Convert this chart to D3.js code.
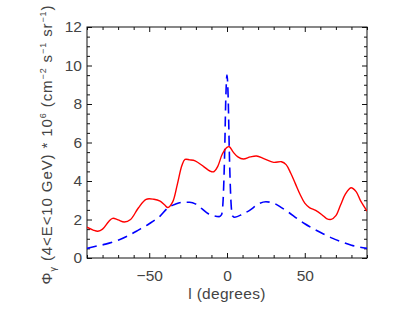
<!DOCTYPE html>
<html>
<head>
<meta charset="utf-8">
<script src="https://cdn.jsdelivr.net/npm/d3@7"></script>
<style>
  body { margin: 0; background: #fff; }
  text { font-family: "Liberation Sans", Arial, sans-serif; fill: #444; }
</style>
</head>
<body>
<div id="chart"></div>
<script>
// Total flux (red, solid) along galactic longitude
const lonTotal = [-90, -86, -83, -80, -76, -73.5, -70, -66, -62, -57, -52, -47, -43, -40, -38, -35, -32, -29, -27, -24, -20.5, -15, -11, -8.5, -6, -3, 0, 1.5, 4, 7, 10.5, 15, 19, 24, 30, 35, 38, 41, 44, 47, 50, 53, 57, 61, 64, 67, 70, 73, 76, 79.7, 83, 86, 90];
const fluxTotal = [1.6, 1.45, 1.39, 1.5, 1.9, 2.06, 1.98, 1.87, 2.0, 2.6, 3.05, 3.05, 2.95, 2.75, 2.62, 2.9, 3.8, 4.8, 5.12, 5.1, 5.05, 4.75, 4.52, 4.48, 4.75, 5.4, 5.75, 5.78, 5.5, 5.25, 5.14, 5.25, 5.3, 5.15, 4.97, 5.0, 4.85, 4.4, 3.85, 3.3, 2.85, 2.62, 2.47, 2.25, 2.05, 2.01, 2.2, 2.75, 3.3, 3.65, 3.45, 2.95, 2.44];

// Model component (blue, dashed)
const lonModel = [-90, -85, -78, -70, -63, -57, -50, -43, -38, -33, -28, -24, -20, -16, -12, -8, -5, -3.5, -2.5, -1.5, -0.8, 0, 0.8, 1.5, 2.5, 3.5, 5, 10, 15, 20, 25, 30, 35, 40, 45, 50, 56, 62, 68, 74, 80, 85, 90];
const fluxModel = [0.5, 0.6, 0.72, 0.92, 1.18, 1.45, 1.78, 2.18, 2.6, 2.8, 2.9, 2.9, 2.8, 2.55, 2.3, 2.18, 2.15, 2.25, 3.0, 5.5, 8.2, 9.5, 8.2, 5.5, 3.0, 2.2, 2.12, 2.28, 2.5, 2.8, 2.92, 2.85, 2.62, 2.35, 2.05, 1.78, 1.5, 1.25, 1.02, 0.83, 0.66, 0.57, 0.5];

const xTicks = [-50, 0, 50];
const yTicks = [0, 2, 4, 6, 8, 10, 12];

const W = 393, H = 314;
const margin = { top: 27, right: 26, bottom: 56, left: 87 };
const width = W - margin.left - margin.right;
const height = H - margin.top - margin.bottom;

const svg = d3.select("#chart")
  .append("svg")
  .attr("width", W)
  .attr("height", H);

const g = svg.append("g")
  .attr("transform", `translate(${margin.left},${margin.top})`);

const x = d3.scaleLinear().domain([-90, 90]).range([0, width]);
const y = d3.scaleLinear().domain([0, 12]).range([height, 0]);

const minorX = d3.range(-90, 91, 10).filter(v => !xTicks.includes(v));
const minorY = d3.range(0, 12.01, 0.5).filter(v => !yTicks.includes(v));

// major ticks with labels (bottom, left)
g.append("g")
  .attr("transform", `translate(0,${height})`)
  .call(d3.axisBottom(x).tickValues(xTicks).tickSize(-5).tickPadding(12))
  .call(a => a.select(".domain").remove());

g.append("g")
  .call(d3.axisLeft(y).tickValues(yTicks).tickSize(-5).tickPadding(5))
  .call(a => a.select(".domain").remove());

// ticks without labels (top, right)
g.append("g")
  .call(d3.axisTop(x).tickValues(xTicks).tickSize(-5).tickFormat(""))
  .call(a => a.select(".domain").remove());

g.append("g")
  .attr("transform", `translate(${width},0)`)
  .call(d3.axisRight(y).tickValues(yTicks).tickSize(-5).tickFormat(""))
  .call(a => a.select(".domain").remove());

// minor ticks on all four sides
g.append("g")
  .attr("transform", `translate(0,${height})`)
  .call(d3.axisBottom(x).tickValues(minorX).tickSize(-3).tickFormat(""))
  .call(a => a.select(".domain").remove());
g.append("g")
  .call(d3.axisTop(x).tickValues(minorX).tickSize(-3).tickFormat(""))
  .call(a => a.select(".domain").remove());
g.append("g")
  .call(d3.axisLeft(y).tickValues(minorY).tickSize(-3).tickFormat(""))
  .call(a => a.select(".domain").remove());
g.append("g")
  .attr("transform", `translate(${width},0)`)
  .call(d3.axisRight(y).tickValues(minorY).tickSize(-3).tickFormat(""))
  .call(a => a.select(".domain").remove());

g.selectAll(".tick text")
  .attr("font-size", "15.5px")
  .attr("font-family", "Liberation Sans, Arial, sans-serif")
  .attr("fill", "#444");
g.selectAll(".tick line").attr("stroke", "#111");

// frame
g.append("rect")
  .attr("width", width)
  .attr("height", height)
  .attr("fill", "none")
  .attr("stroke", "#111")
  .attr("stroke-width", 1);

// clip to plot area
g.append("clipPath").attr("id", "clip")
  .append("rect").attr("width", width).attr("height", height);

const lineTotal = d3.line()
  .x((d, i) => x(lonTotal[i]))
  .y(d => y(d))
  .curve(d3.curveCatmullRom.alpha(0.5));

const lineModel = d3.line()
  .x((d, i) => x(lonModel[i]))
  .y(d => y(d))
  .curve(d3.curveMonotoneX);

g.append("path")
  .datum(fluxModel)
  .attr("clip-path", "url(#clip)")
  .attr("fill", "none")
  .attr("stroke", "#0000ff")
  .attr("stroke-width", 1.6)
  .attr("stroke-dasharray", "10,6")
  .attr("d", lineModel);

g.append("path")
  .datum(fluxTotal)
  .attr("clip-path", "url(#clip)")
  .attr("fill", "none")
  .attr("stroke", "#ff0000")
  .attr("stroke-width", 1.4)
  .attr("d", lineTotal);

// x label
svg.append("text")
  .attr("x", margin.left + width / 2)
  .attr("y", 299)
  .attr("text-anchor", "middle")
  .attr("font-size", "15.5px")
  .attr("letter-spacing", "0.3px")
  .text("l (degrees)");

// y label
const yl = svg.append("text")
  .attr("transform", `translate(52,${margin.top + height / 2 + 2}) rotate(-90)`)
  .attr("text-anchor", "middle")
  .attr("font-size", "15px")
  .attr("letter-spacing", "0.9px");
yl.append("tspan").text("Φ");
yl.append("tspan").attr("font-size", "9px").attr("dy", 4).text("γ");
yl.append("tspan").attr("dy", -4).text(" (4<E<10 GeV) * 10");
yl.append("tspan").attr("font-size", "9px").attr("dy", -6).text("6");
yl.append("tspan").attr("dy", 6).text(" (cm");
yl.append("tspan").attr("font-size", "9px").attr("dy", -6).text("−2");
yl.append("tspan").attr("dy", 6).text(" s");
yl.append("tspan").attr("font-size", "9px").attr("dy", -6).text("−1");
yl.append("tspan").attr("dy", 6).text(" sr");
yl.append("tspan").attr("font-size", "9px").attr("dy", -6).text("−1");
yl.append("tspan").attr("dy", 6).text(")");
</script>
</body>
</html>
